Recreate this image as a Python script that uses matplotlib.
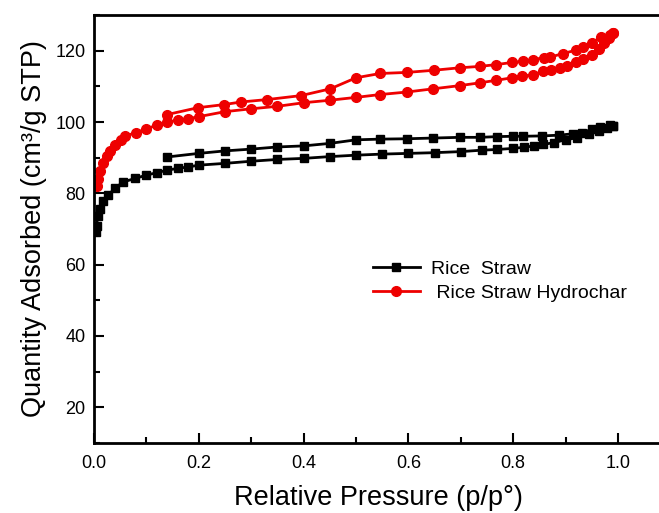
import matplotlib
matplotlib.use("Agg")
import matplotlib.pyplot as plt
from matplotlib.ticker import MultipleLocator

plt.rcParams['font.family'] = ['Liberation Sans', 'DejaVu Sans']

# Rice Straw : adsorption puis desorption
rs_ads_x = [0.003, 0.005, 0.007, 0.011, 0.018, 0.027, 0.04, 0.056, 0.079, 0.10, 0.12, 0.14, 0.16, 0.18, 0.20,
            0.25, 0.30, 0.35, 0.40, 0.45, 0.50, 0.55, 0.60, 0.65, 0.70, 0.74, 0.77, 0.80, 0.82, 0.84,
            0.857, 0.877, 0.90, 0.922, 0.944, 0.963, 0.979, 0.99]
rs_ads_y = [69.1, 70.9, 73.7, 75.6, 77.9, 79.5, 81.4, 83.2, 84.2, 85.1, 85.8, 86.5, 87.0, 87.4, 87.9,
            88.4, 89.0, 89.5, 89.8, 90.3, 90.7, 91.0, 91.2, 91.4, 91.7, 92.1, 92.3, 92.6, 92.9, 93.3,
            93.7, 94.2, 95.0, 95.6, 96.5, 97.5, 98.4, 99.0]
rs_des_x = [0.99, 0.985, 0.966, 0.95, 0.931, 0.914, 0.887, 0.855, 0.819, 0.80, 0.769, 0.737, 0.698, 0.647,
            0.597, 0.546, 0.50, 0.45, 0.40, 0.35, 0.30, 0.25, 0.20, 0.14]
rs_des_y = [99.0, 99.1, 98.5, 97.9, 97.0, 96.7, 96.3, 96.1, 96.0, 96.0, 95.9, 95.7, 95.7, 95.5,
            95.3, 95.2, 95.0, 94.0, 93.3, 93.0, 92.4, 91.9, 91.2, 90.2]

# Rice Straw Hydrochar
hc_ads_x = [0.005, 0.008, 0.011, 0.018, 0.024, 0.03, 0.04, 0.051, 0.06, 0.08, 0.10, 0.12, 0.14, 0.16, 0.18, 0.20,
            0.25, 0.30, 0.35, 0.40, 0.45, 0.50, 0.546, 0.597, 0.647, 0.698, 0.737, 0.768, 0.798, 0.817, 0.838,
            0.857, 0.872, 0.889, 0.903, 0.919, 0.934, 0.95, 0.963, 0.973, 0.982, 0.99]
hc_ads_y = [82.1, 84.0, 86.3, 88.6, 90.5, 91.9, 93.5, 95.0, 96.1, 97.0, 98.1, 99.1, 100.0, 100.5, 100.9, 101.5,
            102.9, 103.7, 104.4, 105.4, 106.1, 106.9, 107.7, 108.4, 109.3, 110.2, 111.0, 111.7, 112.4, 112.8, 113.3,
            114.2, 114.7, 115.2, 115.8, 116.7, 117.7, 118.9, 120.5, 122.2, 123.5, 125.0]
hc_des_x = [0.99, 0.985, 0.968, 0.95, 0.933, 0.919, 0.895, 0.871, 0.858, 0.838, 0.819, 0.798, 0.768, 0.737,
            0.698, 0.648, 0.597, 0.546, 0.50, 0.451, 0.395, 0.331, 0.28, 0.249, 0.198, 0.14]
hc_des_y = [125.0, 124.5, 123.8, 122.2, 121.0, 120.1, 119.2, 118.2, 118.0, 117.5, 117.0, 116.7, 116.1, 115.6,
            115.2, 114.5, 113.9, 113.6, 112.4, 109.3, 107.4, 106.3, 105.6, 104.9, 104.0, 102.1]

fig = plt.figure(figsize=(6.59, 5.13), dpi=100)
ax = fig.add_axes([94/659, 70/513, 568/659, 428/513])

ax.plot(rs_ads_x + rs_des_x, rs_ads_y + rs_des_y, color='black', marker='s', markersize=6,
        linewidth=2, label='Rice  Straw')
ax.plot(hc_ads_x + hc_des_x, hc_ads_y + hc_des_y, color='#ee0000', marker='o', markersize=7,
        linewidth=2, label=' Rice Straw Hydrochar')

ax.set_xlim(0, 1.084)
ax.set_ylim(10, 130)
ax.xaxis.set_major_locator(MultipleLocator(0.2))
ax.xaxis.set_minor_locator(MultipleLocator(0.1))
ax.yaxis.set_major_locator(MultipleLocator(20))
ax.yaxis.set_minor_locator(MultipleLocator(10))
ax.set_yticks([20, 40, 60, 80, 100, 120])
ax.tick_params(which='both', direction='in', width=1.5, labelsize=13, top=False, right=False)
ax.tick_params(which='major', length=7)
ax.tick_params(axis='x', which='major', pad=9)
ax.tick_params(axis='y', which='major', pad=6)
ax.tick_params(which='minor', length=4)
for s in ax.spines.values():
    s.set_linewidth(2)

ax.set_xlabel('Relative Pressure (p/p°)', fontsize=19.5, labelpad=9)
ax.set_ylabel('Quantity Adsorbed (cm³/g STP)', fontsize=19.5, labelpad=6)

ax.legend(frameon=False, fontsize=14, handlelength=2.42, handletextpad=0.6, labelspacing=0.33,
          loc='upper left', bbox_to_anchor=(355/659, 1 - 243/513), bbox_transform=fig.transFigure)

fig.savefig('out.png', dpi=100)
